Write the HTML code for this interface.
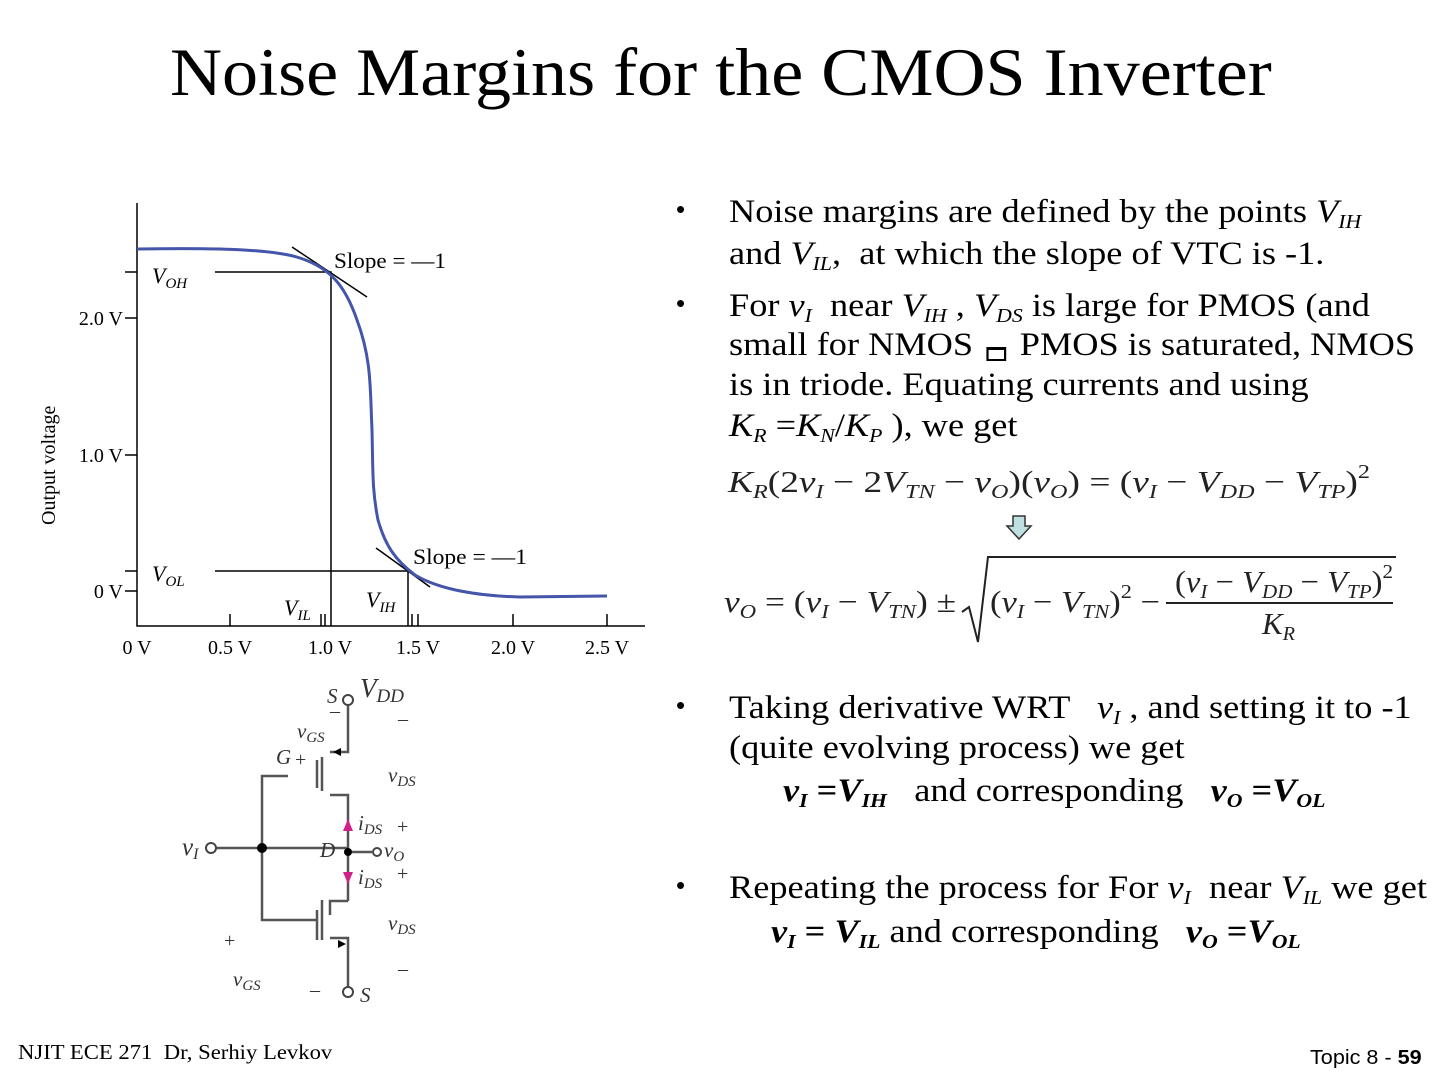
<!DOCTYPE html>
<html><head><meta charset="utf-8"><style>
body{margin:0;width:1440px;height:1080px;background:#fff;position:relative;overflow:hidden;font-family:"Liberation Serif",serif;color:#000}
.t{position:absolute;white-space:nowrap;font-size:33px;line-height:1;transform:scaleX(1.1);transform-origin:0 0}
sub{font-size:0.6em;vertical-align:-0.3em;font-style:italic}
i{font-style:italic}
.b{position:absolute;font-family:"Liberation Sans",sans-serif;font-size:26px}
</style></head><body>
<div class="t" style="left:170px;top:38px;font-size:68px;transform:scaleX(1.06)">Noise Margins for the CMOS Inverter</div>

<svg style="position:absolute;left:0;top:0" width="1440" height="1080" font-family="Liberation Serif, serif">
<g stroke="#000" stroke-width="1.5" fill="none">
<path d="M137,203V626H645"/>
<path d="M125,318h12M125,455h12M125,591h12M125,272h12M125,571h12"/>
<path d="M230,626v-12M325,626v-12M418,626v-12M513,626v-12M607,626v-12M321,626v-12M412,626v-12"/>
<path d="M215,272H331V626M215,571H408V626"/>
<path d="M292,247L367,297M376,548L430,587"/>
</g>
<path d="M137,249C200,248 270,248 300,258C330,268 345,285 357,320C372,360 370,390 372,430C373,470 372,490 378,520C385,545 395,560 415,575C440,590 480,596 520,597L607,596" stroke="#4455aa" stroke-width="3" fill="none"/>
<g font-size="20" text-anchor="end">
<text x="123" y="325">2.0 V</text><text x="123" y="462">1.0 V</text><text x="123" y="598">0 V</text>
</g>
<g font-size="20" text-anchor="middle">
<text x="137" y="654">0 V</text><text x="230" y="654">0.5 V</text><text x="330" y="654">1.0 V</text><text x="418" y="654">1.5 V</text><text x="513" y="654">2.0 V</text><text x="607" y="654">2.5 V</text>
</g>
<text font-size="20" transform="translate(55,525) rotate(-90)">Output voltage</text>
<text x="334" y="268" font-size="22" textLength="112" lengthAdjust="spacingAndGlyphs">Slope = —1</text>
<text x="413" y="564" font-size="22" textLength="114" lengthAdjust="spacingAndGlyphs">Slope = —1</text>
<g font-size="22" font-style="italic">
<text x="152" y="283">V<tspan font-size="15" dy="5">OH</tspan></text>
<text x="152" y="581">V<tspan font-size="15" dy="5">OL</tspan></text>
<text x="284" y="615">V<tspan font-size="15" dy="5">IL</tspan></text>
<text x="366" y="607">V<tspan font-size="15" dy="5">IH</tspan></text>
</g>

<!-- circuit -->
<g stroke="#555" stroke-width="2.5" fill="none">
<path d="M348,703V752H330M322,757v34M330,795h18v30M322,762v6M322,774v6M322,786v4"/>
<path d="M317,760v28"/>
<path d="M262,848V776h26M215,848h133M348,825v76M348,852h24"/>
<path d="M348,901h-18v14M322,900v40M317,910v30M330,938h18v49M285,920h32M262,848v72h23"/>
</g>
<g fill="#fff" stroke="#444" stroke-width="2"><circle cx="348" cy="700" r="5"/><circle cx="348" cy="992" r="5"/><circle cx="211" cy="848" r="5"/><circle cx="377" cy="852" r="4"/></g>
<circle cx="262" cy="848" r="5" fill="#000"/><circle cx="348" cy="852" r="4" fill="#000"/>
<path d="M343,831h10l-5,-12z M343,872h10l-5,12z" fill="#d0208a"/>
<path d="M333,752l8,-4v8z M338,940l8,4-8,4z" fill="#000"/>
<g font-style="italic" font-size="21" fill="#333">
<text x="360" y="697" font-size="27">V<tspan font-size="19" dy="5">DD</tspan></text>
<text x="327" y="703">S</text><text x="360" y="1002">S</text>
<text x="297" y="738">v<tspan font-size="15" dy="4">GS</tspan></text>
<text x="276" y="764">G</text>
<text x="388" y="782">v<tspan font-size="15" dy="4">DS</tspan></text>
<text x="388" y="930">v<tspan font-size="15" dy="4">DS</tspan></text>
<text x="358" y="830">i<tspan font-size="15" dy="4">DS</tspan></text>
<text x="358" y="884">i<tspan font-size="15" dy="4">DS</tspan></text>
<text x="320" y="857">D</text>
<text x="384" y="857">v<tspan font-size="15" dy="4">O</tspan></text>
<text x="182" y="855" font-size="25">v<tspan font-size="16" dy="4">I</tspan></text>
<text x="233" y="986">v<tspan font-size="15" dy="4">GS</tspan></text>
</g>
<g font-size="20" fill="#333"><text x="295" y="766">+</text><text x="397" y="833">+</text><text x="397" y="880">+</text><text x="224" y="947">+</text><text x="398" y="725">–</text><text x="330" y="717">–</text><text x="398" y="975">–</text><text x="310" y="996">–</text></g>

<!-- equations -->
<g font-style="italic" font-size="31" fill="#222">
<text x="728" y="492" textLength="642" lengthAdjust="spacingAndGlyphs">K<tspan font-size="20" dy="6">R</tspan><tspan dy="-6" font-style="normal">(2</tspan>v<tspan font-size="20" dy="6">I</tspan><tspan dy="-6" font-style="normal"> − 2</tspan>V<tspan font-size="20" dy="6">TN</tspan><tspan dy="-6" font-style="normal"> − </tspan>v<tspan font-size="20" dy="6">O</tspan><tspan dy="-6" font-style="normal">)(</tspan>v<tspan font-size="20" dy="6">O</tspan><tspan dy="-6" font-style="normal">) = (</tspan>v<tspan font-size="20" dy="6">I</tspan><tspan dy="-6" font-style="normal"> − </tspan>V<tspan font-size="20" dy="6">DD</tspan><tspan dy="-6" font-style="normal"> − </tspan>V<tspan font-size="20" dy="6">TP</tspan><tspan dy="-6" font-style="normal">)</tspan><tspan font-size="20" dy="-14" font-style="normal">2</tspan></text>
<text x="724" y="612" textLength="232" lengthAdjust="spacingAndGlyphs">v<tspan font-size="20" dy="6">O</tspan><tspan dy="-6" font-style="normal"> = (</tspan>v<tspan font-size="20" dy="6">I</tspan><tspan dy="-6" font-style="normal"> − </tspan>V<tspan font-size="20" dy="6">TN</tspan><tspan dy="-6" font-style="normal">) ±</tspan></text>
<text x="990" y="612" textLength="170" lengthAdjust="spacingAndGlyphs"><tspan font-style="normal">(</tspan>v<tspan font-size="20" dy="6">I</tspan><tspan dy="-6" font-style="normal"> − </tspan>V<tspan font-size="20" dy="6">TN</tspan><tspan dy="-6" font-style="normal">)</tspan><tspan font-size="20" dy="-14" font-style="normal">2</tspan><tspan dy="14" font-style="normal"> − </tspan></text>
<text x="1175" y="592" textLength="218" lengthAdjust="spacingAndGlyphs"><tspan font-style="normal">(</tspan>v<tspan font-size="20" dy="6">I</tspan><tspan dy="-6" font-style="normal"> − </tspan>V<tspan font-size="20" dy="6">DD</tspan><tspan dy="-6" font-style="normal"> − </tspan>V<tspan font-size="20" dy="6">TP</tspan><tspan dy="-6" font-style="normal">)</tspan><tspan font-size="20" dy="-14" font-style="normal">2</tspan></text>
<text x="1262" y="634">K<tspan font-size="20" dy="6">R</tspan></text>
</g>
<path d="M1166,603H1393" stroke="#222" stroke-width="2"/>
<path d="M962,612l7,-5 9,35 10,-85H1396" stroke="#222" stroke-width="2" fill="none"/>
<path d="M1013,516h12v10h6l-12,13-12,-13h6z" fill="#bfe0e0" stroke="#333" stroke-width="1.5"/>
</svg>

<div class="b" style="left:676px;top:194px">•</div>
<div class="t" style="left:729px;top:196px">Noise margins are defined by the points <i>V<sub>IH</sub></i></div>
<div class="t" style="left:729px;top:238px">and <i>V<sub>IL</sub></i>,&nbsp; at which the slope of VTC is -1.</div>
<div class="b" style="left:676px;top:288px">•</div>
<div class="t" style="left:729px;top:290px">For <i>v<sub>I</sub></i>&nbsp; near <i>V<sub>IH</sub></i> , <i>V<sub>DS</sub></i> is large for PMOS (and</div>
<div class="t" style="left:729px;top:329px">small for NMOS <span style="display:inline-block;width:14px;height:9px;border:2px solid #000;border-top-width:3px;vertical-align:-6px;margin:0 4px"></span> PMOS is saturated, NMOS</div>
<div class="t" style="left:729px;top:369px">is in triode. Equating currents and using</div>
<div class="t" style="left:729px;top:410px"><i>K<sub>R</sub></i> =<i>K<sub>N</sub></i>/<i>K<sub>P</sub></i> ), we get</div>
<div class="b" style="left:676px;top:690px">•</div>
<div class="t" style="left:729px;top:692px">Taking derivative WRT &nbsp; <i>v<sub>I</sub></i> , and setting it to -1</div>
<div class="t" style="left:729px;top:732px">(quite evolving process) we get</div>
<div class="t" style="left:783px;top:775px"><b><i>v<sub>I</sub></i> =<i>V<sub>IH</sub></i></b> &nbsp; and corresponding &nbsp; <b><i>v<sub>O</sub></i> =<i>V<sub>OL</sub></i></b></div>
<div class="b" style="left:676px;top:870px">•</div>
<div class="t" style="left:729px;top:872px">Repeating the process for For <i>v<sub>I</sub></i>&nbsp; near <i>V<sub>IL</sub></i> we get</div>
<div class="t" style="left:771px;top:916px"><b><i>v<sub>I</sub></i> = <i>V<sub>IL</sub></i></b> and corresponding &nbsp; <b><i>v<sub>O</sub></i> =<i>V<sub>OL</sub></i></b></div>

<div class="t" style="left:18px;top:1042px;font-size:21px;transform:scaleX(1.08)">NJIT ECE 271&nbsp; Dr, Serhiy Levkov</div>
<div class="t" style="left:1310px;top:1048px;font-size:20px;transform:scaleX(1.08);font-family:'Liberation Sans',sans-serif">Topic 8 - <b>59</b></div>
</body></html>
